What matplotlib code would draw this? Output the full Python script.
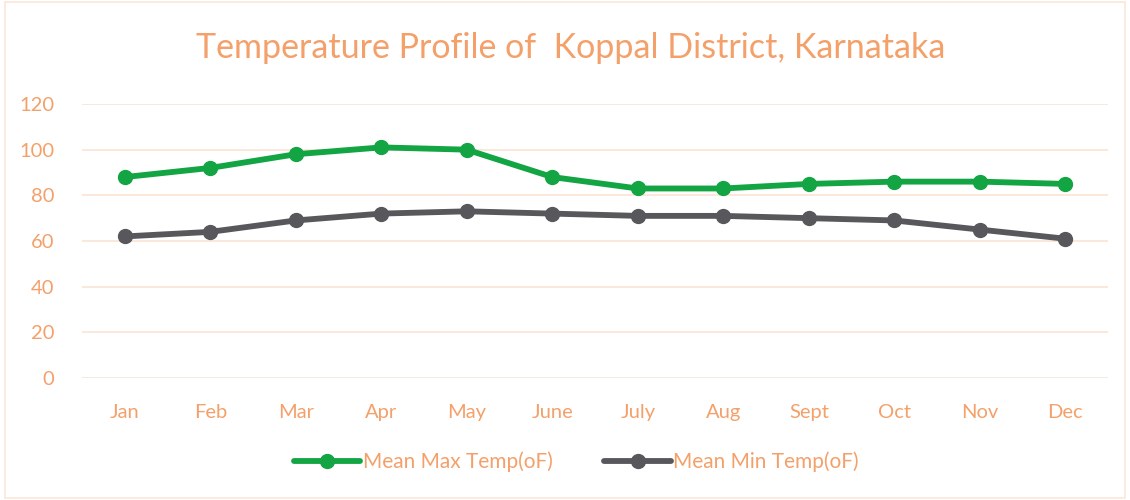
import matplotlib
matplotlib.use("Agg")
import matplotlib.pyplot as plt
from matplotlib.patches import Rectangle

months = ["Jan", "Feb", "Mar", "Apr", "May", "June", "July", "Aug", "Sept", "Oct", "Nov", "Dec"]
mean_max = [88, 92, 98, 101, 100, 88, 83, 83, 85, 86, 86, 85]
mean_min = [62, 64, 69, 72, 73, 72, 71, 71, 70, 69, 65, 61]
y_ticks = [0, 20, 40, 60, 80, 100, 120]

ORANGE = "#F4A06A"
GRID = "#FBE6D8"
GREEN = "#13A543"
GREY = "#58585C"

plt.rcParams["font.family"] = ["Lato", "DejaVu Sans"]

fig = plt.figure(figsize=(11.3, 5.0), dpi=100)
fig.patches.append(Rectangle((0.004, 0.004), 0.992, 0.992, transform=fig.transFigure,
                             fill=False, edgecolor=GRID, linewidth=1.2))
ax = fig.add_axes([0.0726, 0.244, 0.908, 0.548])

x = list(range(len(months)))
ax.plot(x, mean_max, color=GREEN, linewidth=4.2, marker="o", markersize=10,
        label="Mean Max Temp(oF)", solid_capstyle="round")
ax.plot(x, mean_min, color=GREY, linewidth=4.2, marker="o", markersize=10,
        label="Mean Min Temp(oF)", solid_capstyle="round")

ax.set_xlim(-0.5, len(months) - 0.5)
ax.set_ylim(0, 120)
ax.set_yticks(y_ticks)
ax.set_xticks(x)
ax.set_xticklabels(months)
ax.grid(axis="y", color=GRID, linewidth=1.3)
ax.set_axisbelow(True)
for s in ax.spines.values():
    s.set_visible(False)
ax.tick_params(length=0, labelsize=14.5, colors=ORANGE)
ax.tick_params(axis="x", pad=19)
ax.tick_params(axis="y", pad=20)

fig.text(0.505, 0.903, "Temperature Profile of  Koppal District, Karnataka",
         ha="center", va="center", fontsize=24.5, color=ORANGE)

leg = fig.legend(loc="center", bbox_to_anchor=(0.51, 0.076), ncol=2, frameon=False,
                 fontsize=15, handlelength=3.2, handletextpad=0.1, columnspacing=2.5,
                 labelcolor=ORANGE)

fig.savefig("out.png", dpi=100)
